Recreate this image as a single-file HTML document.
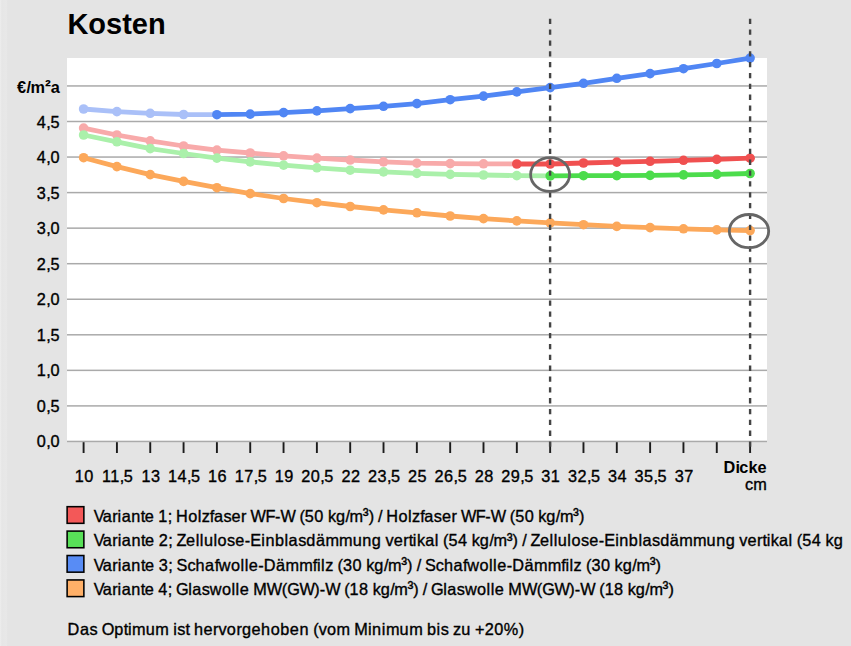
<!DOCTYPE html>
<html><head><meta charset="utf-8"><title>Kosten</title>
<style>
html,body{margin:0;padding:0;}
body{width:851px;height:646px;overflow:hidden;background:#e4e4e4;position:relative;font-family:"Liberation Sans",sans-serif;color:#000;font-size:16.276px;font-kerning:none;font-variant-ligatures:none;}
.strip{position:absolute;left:0;top:0;width:8px;height:646px;background:linear-gradient(to right,#eeeeee 0,#e9e9e9 1px,#e6e6e6 2px,#e7e7e7 4.5px,#e8e8e8 6.3px,#e4e4e4 7.6px);}
.plot{position:absolute;left:67px;top:57.6px;width:700.2px;height:384px;background:#fff;}
svg{position:absolute;left:0;top:0;}
h1{position:absolute;left:67.4px;top:8.3px;margin:0;font-size:29px;line-height:32px;font-weight:bold;}
.t{-webkit-text-stroke:0.35px #000;position:absolute;line-height:18px;height:18px;white-space:nowrap;}
.lb{position:absolute;left:66.2px;width:15.1px;height:14.2px;border:1.7px solid #000;}
</style></head><body>
<div class="strip"></div>
<div class="plot"></div>
<svg width="851" height="646" viewBox="0 0 851 646">
<rect x="67" y="440.70" width="700" height="1.5" fill="#aaaaaa"/><rect x="67" y="405.15" width="700" height="1.5" fill="#aaaaaa"/><rect x="67" y="369.60" width="700" height="1.5" fill="#aaaaaa"/><rect x="67" y="334.05" width="700" height="1.5" fill="#aaaaaa"/><rect x="67" y="298.50" width="700" height="1.5" fill="#aaaaaa"/><rect x="67" y="262.95" width="700" height="1.5" fill="#aaaaaa"/><rect x="67" y="227.40" width="700" height="1.5" fill="#aaaaaa"/><rect x="67" y="191.85" width="700" height="1.5" fill="#aaaaaa"/><rect x="67" y="156.30" width="700" height="1.5" fill="#aaaaaa"/><rect x="67" y="120.75" width="700" height="1.5" fill="#aaaaaa"/><rect x="67" y="85.20" width="700" height="1.5" fill="#aaaaaa"/><rect x="82.65" y="442.2" width="1.9" height="10.8" fill="#1c1c1c"/><rect x="115.97" y="442.2" width="1.9" height="10.8" fill="#1c1c1c"/><rect x="149.30" y="442.2" width="1.9" height="10.8" fill="#1c1c1c"/><rect x="182.62" y="442.2" width="1.9" height="10.8" fill="#1c1c1c"/><rect x="215.95" y="442.2" width="1.9" height="10.8" fill="#1c1c1c"/><rect x="249.28" y="442.2" width="1.9" height="10.8" fill="#1c1c1c"/><rect x="282.60" y="442.2" width="1.9" height="10.8" fill="#1c1c1c"/><rect x="315.93" y="442.2" width="1.9" height="10.8" fill="#1c1c1c"/><rect x="349.25" y="442.2" width="1.9" height="10.8" fill="#1c1c1c"/><rect x="382.57" y="442.2" width="1.9" height="10.8" fill="#1c1c1c"/><rect x="415.90" y="442.2" width="1.9" height="10.8" fill="#1c1c1c"/><rect x="449.23" y="442.2" width="1.9" height="10.8" fill="#1c1c1c"/><rect x="482.55" y="442.2" width="1.9" height="10.8" fill="#1c1c1c"/><rect x="515.88" y="442.2" width="1.9" height="10.8" fill="#1c1c1c"/><rect x="549.20" y="442.2" width="1.9" height="10.8" fill="#1c1c1c"/><rect x="582.52" y="442.2" width="1.9" height="10.8" fill="#1c1c1c"/><rect x="615.85" y="442.2" width="1.9" height="10.8" fill="#1c1c1c"/><rect x="649.18" y="442.2" width="1.9" height="10.8" fill="#1c1c1c"/><rect x="682.50" y="442.2" width="1.9" height="10.8" fill="#1c1c1c"/><rect x="715.83" y="442.2" width="1.9" height="10.8" fill="#1c1c1c"/><rect x="749.15" y="442.2" width="1.9" height="10.8" fill="#1c1c1c"/><polyline points="83.6,109.0 116.9,111.6 150.2,113.3 183.6,114.5 216.9,114.7" fill="none" stroke="#aac0f8" stroke-width="4.8" stroke-linejoin="round"/><circle cx="83.6" cy="109.0" r="4.8" fill="#aac0f8"/><circle cx="116.9" cy="111.6" r="4.8" fill="#aac0f8"/><circle cx="150.2" cy="113.3" r="4.8" fill="#aac0f8"/><circle cx="183.6" cy="114.5" r="4.8" fill="#aac0f8"/><polyline points="216.9,114.7 250.2,114.1 283.6,112.6 316.9,110.9 350.2,108.6 383.5,106.3 416.9,103.6 450.2,99.7 483.5,96.1 516.8,91.9 550.2,87.6 583.5,83.3 616.8,78.3 650.1,73.6 683.5,68.7 716.8,63.5 750.1,58.1" fill="none" stroke="#5086f4" stroke-width="4.8" stroke-linejoin="round"/><circle cx="216.9" cy="114.7" r="4.8" fill="#5086f4"/><circle cx="250.2" cy="114.1" r="4.8" fill="#5086f4"/><circle cx="283.6" cy="112.6" r="4.8" fill="#5086f4"/><circle cx="316.9" cy="110.9" r="4.8" fill="#5086f4"/><circle cx="350.2" cy="108.6" r="4.8" fill="#5086f4"/><circle cx="383.5" cy="106.3" r="4.8" fill="#5086f4"/><circle cx="416.9" cy="103.6" r="4.8" fill="#5086f4"/><circle cx="450.2" cy="99.7" r="4.8" fill="#5086f4"/><circle cx="483.5" cy="96.1" r="4.8" fill="#5086f4"/><circle cx="516.8" cy="91.9" r="4.8" fill="#5086f4"/><circle cx="550.2" cy="87.6" r="4.8" fill="#5086f4"/><circle cx="583.5" cy="83.3" r="4.8" fill="#5086f4"/><circle cx="616.8" cy="78.3" r="4.8" fill="#5086f4"/><circle cx="650.1" cy="73.6" r="4.8" fill="#5086f4"/><circle cx="683.5" cy="68.7" r="4.8" fill="#5086f4"/><circle cx="716.8" cy="63.5" r="4.8" fill="#5086f4"/><circle cx="750.1" cy="58.1" r="4.8" fill="#5086f4"/><polyline points="83.6,128.1 116.9,135.0 150.2,140.8 183.6,146.0 216.9,150.1 250.2,153.0 283.6,155.8 316.9,158.1 350.2,160.0 383.5,161.9 416.9,163.2 450.2,163.6 483.5,163.8 516.8,164.0" fill="none" stroke="#f8aaaa" stroke-width="4.8" stroke-linejoin="round"/><circle cx="83.6" cy="128.1" r="4.8" fill="#f8aaaa"/><circle cx="116.9" cy="135.0" r="4.8" fill="#f8aaaa"/><circle cx="150.2" cy="140.8" r="4.8" fill="#f8aaaa"/><circle cx="183.6" cy="146.0" r="4.8" fill="#f8aaaa"/><circle cx="216.9" cy="150.1" r="4.8" fill="#f8aaaa"/><circle cx="250.2" cy="153.0" r="4.8" fill="#f8aaaa"/><circle cx="283.6" cy="155.8" r="4.8" fill="#f8aaaa"/><circle cx="316.9" cy="158.1" r="4.8" fill="#f8aaaa"/><circle cx="350.2" cy="160.0" r="4.8" fill="#f8aaaa"/><circle cx="383.5" cy="161.9" r="4.8" fill="#f8aaaa"/><circle cx="416.9" cy="163.2" r="4.8" fill="#f8aaaa"/><circle cx="450.2" cy="163.6" r="4.8" fill="#f8aaaa"/><circle cx="483.5" cy="163.8" r="4.8" fill="#f8aaaa"/><polyline points="516.8,164.0 550.2,164.0 583.5,163.0 616.8,162.1 650.1,161.3 683.5,160.3 716.8,159.4 750.1,158.2" fill="none" stroke="#f05050" stroke-width="4.8" stroke-linejoin="round"/><circle cx="516.8" cy="164.0" r="4.8" fill="#f05050"/><circle cx="550.2" cy="164.0" r="4.8" fill="#f05050"/><circle cx="583.5" cy="163.0" r="4.8" fill="#f05050"/><circle cx="616.8" cy="162.1" r="4.8" fill="#f05050"/><circle cx="650.1" cy="161.3" r="4.8" fill="#f05050"/><circle cx="683.5" cy="160.3" r="4.8" fill="#f05050"/><circle cx="716.8" cy="159.4" r="4.8" fill="#f05050"/><circle cx="750.1" cy="158.2" r="4.8" fill="#f05050"/><polyline points="83.6,135.0 116.9,141.8 150.2,148.6 183.6,153.5 216.9,158.1 250.2,161.9 283.6,165.1 316.9,167.8 350.2,170.2 383.5,171.9 416.9,173.4 450.2,174.4 483.5,175.0 516.8,175.6 550.2,175.9" fill="none" stroke="#aaf0aa" stroke-width="4.8" stroke-linejoin="round"/><circle cx="83.6" cy="135.0" r="4.8" fill="#aaf0aa"/><circle cx="116.9" cy="141.8" r="4.8" fill="#aaf0aa"/><circle cx="150.2" cy="148.6" r="4.8" fill="#aaf0aa"/><circle cx="183.6" cy="153.5" r="4.8" fill="#aaf0aa"/><circle cx="216.9" cy="158.1" r="4.8" fill="#aaf0aa"/><circle cx="250.2" cy="161.9" r="4.8" fill="#aaf0aa"/><circle cx="283.6" cy="165.1" r="4.8" fill="#aaf0aa"/><circle cx="316.9" cy="167.8" r="4.8" fill="#aaf0aa"/><circle cx="350.2" cy="170.2" r="4.8" fill="#aaf0aa"/><circle cx="383.5" cy="171.9" r="4.8" fill="#aaf0aa"/><circle cx="416.9" cy="173.4" r="4.8" fill="#aaf0aa"/><circle cx="450.2" cy="174.4" r="4.8" fill="#aaf0aa"/><circle cx="483.5" cy="175.0" r="4.8" fill="#aaf0aa"/><circle cx="516.8" cy="175.6" r="4.8" fill="#aaf0aa"/><polyline points="550.2,175.9 583.5,175.7 616.8,175.6 650.1,175.4 683.5,174.9 716.8,174.4 750.1,173.5" fill="none" stroke="#4cdc4c" stroke-width="4.8" stroke-linejoin="round"/><circle cx="550.2" cy="175.9" r="4.8" fill="#4cdc4c"/><circle cx="583.5" cy="175.7" r="4.8" fill="#4cdc4c"/><circle cx="616.8" cy="175.6" r="4.8" fill="#4cdc4c"/><circle cx="650.1" cy="175.4" r="4.8" fill="#4cdc4c"/><circle cx="683.5" cy="174.9" r="4.8" fill="#4cdc4c"/><circle cx="716.8" cy="174.4" r="4.8" fill="#4cdc4c"/><circle cx="750.1" cy="173.5" r="4.8" fill="#4cdc4c"/><polyline points="83.6,157.7 116.9,166.6 150.2,174.6 183.6,181.4 216.9,187.7 250.2,193.6 283.6,198.5 316.9,202.7 350.2,206.5 383.5,209.9 416.9,212.8 450.2,216.0 483.5,218.6 516.8,220.9 550.2,222.8 583.5,224.7 616.8,226.4 650.1,227.6 683.5,228.8 716.8,229.9 750.1,230.6" fill="none" stroke="#fca85a" stroke-width="4.8" stroke-linejoin="round"/><circle cx="83.6" cy="157.7" r="4.8" fill="#fca85a"/><circle cx="116.9" cy="166.6" r="4.8" fill="#fca85a"/><circle cx="150.2" cy="174.6" r="4.8" fill="#fca85a"/><circle cx="183.6" cy="181.4" r="4.8" fill="#fca85a"/><circle cx="216.9" cy="187.7" r="4.8" fill="#fca85a"/><circle cx="250.2" cy="193.6" r="4.8" fill="#fca85a"/><circle cx="283.6" cy="198.5" r="4.8" fill="#fca85a"/><circle cx="316.9" cy="202.7" r="4.8" fill="#fca85a"/><circle cx="350.2" cy="206.5" r="4.8" fill="#fca85a"/><circle cx="383.5" cy="209.9" r="4.8" fill="#fca85a"/><circle cx="416.9" cy="212.8" r="4.8" fill="#fca85a"/><circle cx="450.2" cy="216.0" r="4.8" fill="#fca85a"/><circle cx="483.5" cy="218.6" r="4.8" fill="#fca85a"/><circle cx="516.8" cy="220.9" r="4.8" fill="#fca85a"/><circle cx="550.2" cy="222.8" r="4.8" fill="#fca85a"/><circle cx="583.5" cy="224.7" r="4.8" fill="#fca85a"/><circle cx="616.8" cy="226.4" r="4.8" fill="#fca85a"/><circle cx="650.1" cy="227.6" r="4.8" fill="#fca85a"/><circle cx="683.5" cy="228.8" r="4.8" fill="#fca85a"/><circle cx="716.8" cy="229.9" r="4.8" fill="#fca85a"/><circle cx="750.1" cy="230.6" r="4.8" fill="#fca85a"/><line x1="550.1" y1="18.7" x2="550.1" y2="452.4" stroke="#444" stroke-width="2.4" stroke-dasharray="5.3 5.54"/><line x1="750.1" y1="18.7" x2="750.1" y2="452.4" stroke="#444" stroke-width="2.4" stroke-dasharray="5.3 5.54"/><ellipse cx="550.1" cy="174.5" rx="19.5" ry="16.9" fill="none" stroke="#666" stroke-width="2.8"/><ellipse cx="749.0" cy="231.1" rx="19.7" ry="16.6" fill="none" stroke="#666" stroke-width="2.8"/><rect x="67.12" y="506.68" width="16.75" height="16.65" fill="#f35858" stroke="#000" stroke-width="1.55"/><rect x="67.12" y="531.10" width="16.75" height="16.65" fill="#58e058" stroke="#000" stroke-width="1.55"/><rect x="67.12" y="555.52" width="16.75" height="16.65" fill="#588cf5" stroke="#000" stroke-width="1.55"/><rect x="67.12" y="579.94" width="16.75" height="16.65" fill="#ffb068" stroke="#000" stroke-width="1.55"/>
</svg>
<h1>Kosten</h1>
<div class="t" style="left:36.84px;top:432.00px"><span style="letter-spacing:0.442px">0</span><span style="letter-spacing:-0.453px">,</span><span style="letter-spacing:0.442px">0</span></div><div class="t" style="left:36.84px;top:396.55px"><span style="letter-spacing:0.442px">0</span><span style="letter-spacing:-0.453px">,</span><span style="letter-spacing:0.442px">5</span></div><div class="t" style="left:36.84px;top:361.10px"><span style="letter-spacing:0.442px">1</span><span style="letter-spacing:-0.453px">,</span><span style="letter-spacing:0.442px">0</span></div><div class="t" style="left:36.84px;top:325.65px"><span style="letter-spacing:0.442px">1</span><span style="letter-spacing:-0.453px">,</span><span style="letter-spacing:0.442px">5</span></div><div class="t" style="left:36.84px;top:290.20px"><span style="letter-spacing:0.442px">2</span><span style="letter-spacing:-0.453px">,</span><span style="letter-spacing:0.442px">0</span></div><div class="t" style="left:36.84px;top:254.75px"><span style="letter-spacing:0.442px">2</span><span style="letter-spacing:-0.453px">,</span><span style="letter-spacing:0.442px">5</span></div><div class="t" style="left:36.84px;top:219.30px"><span style="letter-spacing:0.442px">3</span><span style="letter-spacing:-0.453px">,</span><span style="letter-spacing:0.442px">0</span></div><div class="t" style="left:36.84px;top:183.85px"><span style="letter-spacing:0.442px">3</span><span style="letter-spacing:-0.453px">,</span><span style="letter-spacing:0.442px">5</span></div><div class="t" style="left:36.84px;top:148.40px"><span style="letter-spacing:0.442px">4</span><span style="letter-spacing:-0.453px">,</span><span style="letter-spacing:0.442px">0</span></div><div class="t" style="left:36.84px;top:112.95px"><span style="letter-spacing:0.442px">4</span><span style="letter-spacing:-0.453px">,</span><span style="letter-spacing:0.442px">5</span></div><div class="t" style="left:16.90px;top:77.50px;font-weight:bold;-webkit-text-stroke:0"><span style="letter-spacing:0.442px">€</span><span style="letter-spacing:-0.453px">/</span><span style="letter-spacing:0.448px">m</span><span style="font-size:108%;line-height:0;position:relative;top:-0.9px;margin-left:-0.4px;margin-right:-0.028px">²</span><span style="letter-spacing:0.442px">a</span></div><div class="t" style="left:74.81px;top:466.60px"><span style="letter-spacing:0.442px">10</span></div><div class="t" style="left:102.03px;top:466.60px"><span style="letter-spacing:-0.914px">1</span><span style="letter-spacing:0.442px">1</span><span style="letter-spacing:-0.453px">,</span><span style="letter-spacing:0.442px">5</span></div><div class="t" style="left:141.46px;top:466.60px"><span style="letter-spacing:0.442px">13</span></div><div class="t" style="left:168.00px;top:466.60px"><span style="letter-spacing:0.442px">14</span><span style="letter-spacing:-0.453px">,</span><span style="letter-spacing:0.442px">5</span></div><div class="t" style="left:208.11px;top:466.60px"><span style="letter-spacing:0.442px">16</span></div><div class="t" style="left:234.65px;top:466.60px"><span style="letter-spacing:0.442px">17</span><span style="letter-spacing:-0.453px">,</span><span style="letter-spacing:0.442px">5</span></div><div class="t" style="left:274.76px;top:466.60px"><span style="letter-spacing:0.442px">19</span></div><div class="t" style="left:301.30px;top:466.60px"><span style="letter-spacing:0.442px">20</span><span style="letter-spacing:-0.453px">,</span><span style="letter-spacing:0.442px">5</span></div><div class="t" style="left:341.41px;top:466.60px"><span style="letter-spacing:0.442px">22</span></div><div class="t" style="left:367.95px;top:466.60px"><span style="letter-spacing:0.442px">23</span><span style="letter-spacing:-0.453px">,</span><span style="letter-spacing:0.442px">5</span></div><div class="t" style="left:408.06px;top:466.60px"><span style="letter-spacing:0.442px">25</span></div><div class="t" style="left:434.60px;top:466.60px"><span style="letter-spacing:0.442px">26</span><span style="letter-spacing:-0.453px">,</span><span style="letter-spacing:0.442px">5</span></div><div class="t" style="left:474.71px;top:466.60px"><span style="letter-spacing:0.442px">28</span></div><div class="t" style="left:501.25px;top:466.60px"><span style="letter-spacing:0.442px">29</span><span style="letter-spacing:-0.453px">,</span><span style="letter-spacing:0.442px">5</span></div><div class="t" style="left:541.36px;top:466.60px"><span style="letter-spacing:0.442px">31</span></div><div class="t" style="left:567.90px;top:466.60px"><span style="letter-spacing:0.442px">32</span><span style="letter-spacing:-0.453px">,</span><span style="letter-spacing:0.442px">5</span></div><div class="t" style="left:608.01px;top:466.60px"><span style="letter-spacing:0.442px">34</span></div><div class="t" style="left:634.55px;top:466.60px"><span style="letter-spacing:0.442px">35</span><span style="letter-spacing:-0.453px">,</span><span style="letter-spacing:0.442px">5</span></div><div class="t" style="left:674.66px;top:466.60px"><span style="letter-spacing:0.442px">37</span></div><div class="t" style="left:723.54px;top:457.80px;font-weight:bold;-webkit-text-stroke:0"><span style="letter-spacing:0.153px">D</span><span style="letter-spacing:-0.753px">i</span><span style="letter-spacing:0.142px">cke</span></div><div class="t" style="left:745.10px;top:475.20px"><span style="letter-spacing:0.0px">c</span><span style="letter-spacing:0.005px">m</span></div><div class="t" style="left:93.70px;top:507.00px"><span style="letter-spacing:-1.904px">V</span><span style="letter-spacing:0.442px">a</span><span style="letter-spacing:0.005px">r</span><span style="letter-spacing:0.453px">i</span><span style="letter-spacing:0.442px">an</span><span style="letter-spacing:-0.453px">t</span><span style="letter-spacing:0.442px">e</span><span style="letter-spacing:-0.453px"> </span><span style="letter-spacing:0.442px">1</span><span style="letter-spacing:-0.453px">; </span><span style="letter-spacing:0.453px">H</span><span style="letter-spacing:0.442px">o</span><span style="letter-spacing:0.453px">l</span><span style="letter-spacing:0.0px">z</span><span style="letter-spacing:-0.453px">f</span><span style="letter-spacing:0.442px">a</span><span style="letter-spacing:0.0px">s</span><span style="letter-spacing:0.442px">e</span><span style="letter-spacing:0.005px">r</span><span style="letter-spacing:-0.453px"> </span><span style="letter-spacing:-0.442px">W</span><span style="letter-spacing:-0.448px">F</span><span style="letter-spacing:0.005px">-</span><span style="letter-spacing:-0.442px">W</span><span style="letter-spacing:-0.453px"> </span><span style="letter-spacing:0.005px">(</span><span style="letter-spacing:0.442px">50</span><span style="letter-spacing:-0.453px"> </span><span style="letter-spacing:0.0px">k</span><span style="letter-spacing:0.442px">g</span><span style="letter-spacing:-0.453px">/</span><span style="letter-spacing:0.005px">m</span><span style="font-size:108%;line-height:0;position:relative;top:-0.9px;margin-left:-0.4px;margin-right:-0.028px">³</span><span style="letter-spacing:0.005px">)</span><span style="letter-spacing:-0.453px"> / </span><span style="letter-spacing:0.453px">H</span><span style="letter-spacing:0.442px">o</span><span style="letter-spacing:0.453px">l</span><span style="letter-spacing:0.0px">z</span><span style="letter-spacing:-0.453px">f</span><span style="letter-spacing:0.442px">a</span><span style="letter-spacing:0.0px">s</span><span style="letter-spacing:0.442px">e</span><span style="letter-spacing:0.005px">r</span><span style="letter-spacing:-0.453px"> </span><span style="letter-spacing:-0.442px">W</span><span style="letter-spacing:-0.448px">F</span><span style="letter-spacing:0.005px">-</span><span style="letter-spacing:-0.442px">W</span><span style="letter-spacing:-0.453px"> </span><span style="letter-spacing:0.005px">(</span><span style="letter-spacing:0.442px">50</span><span style="letter-spacing:-0.453px"> </span><span style="letter-spacing:0.0px">k</span><span style="letter-spacing:0.442px">g</span><span style="letter-spacing:-0.453px">/</span><span style="letter-spacing:0.005px">m</span><span style="font-size:108%;line-height:0;position:relative;top:-0.9px;margin-left:-0.4px;margin-right:-0.028px">³</span><span style="letter-spacing:0.005px">)</span></div><div class="t" style="left:93.70px;top:531.43px"><span style="letter-spacing:-1.849px">V</span><span style="letter-spacing:0.497px">a</span><span style="letter-spacing:0.06px">r</span><span style="letter-spacing:0.508px">i</span><span style="letter-spacing:0.497px">an</span><span style="letter-spacing:-0.398px">t</span><span style="letter-spacing:0.497px">e</span><span style="letter-spacing:-0.398px"> </span><span style="letter-spacing:0.497px">2</span><span style="letter-spacing:-0.398px">; </span><span style="letter-spacing:-0.393px">Z</span><span style="letter-spacing:0.497px">e</span><span style="letter-spacing:0.508px">ll</span><span style="letter-spacing:0.497px">u</span><span style="letter-spacing:0.508px">l</span><span style="letter-spacing:0.497px">o</span><span style="letter-spacing:0.055px">s</span><span style="letter-spacing:0.497px">e</span><span style="letter-spacing:0.06px">-</span><span style="letter-spacing:0.05px">E</span><span style="letter-spacing:0.508px">i</span><span style="letter-spacing:0.497px">nb</span><span style="letter-spacing:0.508px">l</span><span style="letter-spacing:0.497px">a</span><span style="letter-spacing:0.055px">s</span><span style="letter-spacing:0.497px">dä</span><span style="letter-spacing:0.06px">mm</span><span style="letter-spacing:0.497px">ung</span><span style="letter-spacing:-0.398px"> </span><span style="letter-spacing:0.055px">v</span><span style="letter-spacing:0.497px">e</span><span style="letter-spacing:0.06px">r</span><span style="letter-spacing:-0.398px">t</span><span style="letter-spacing:0.508px">i</span><span style="letter-spacing:0.055px">k</span><span style="letter-spacing:0.497px">a</span><span style="letter-spacing:0.508px">l</span><span style="letter-spacing:-0.398px"> </span><span style="letter-spacing:0.06px">(</span><span style="letter-spacing:0.497px">54</span><span style="letter-spacing:-0.398px"> </span><span style="letter-spacing:0.055px">k</span><span style="letter-spacing:0.497px">g</span><span style="letter-spacing:-0.398px">/</span><span style="letter-spacing:0.06px">m</span><span style="font-size:108%;line-height:0;position:relative;top:-0.9px;margin-left:-0.4px;margin-right:0.027px">³</span><span style="letter-spacing:0.06px">)</span><span style="letter-spacing:-0.398px"> / </span><span style="letter-spacing:-0.393px">Z</span><span style="letter-spacing:0.497px">e</span><span style="letter-spacing:0.508px">ll</span><span style="letter-spacing:0.497px">u</span><span style="letter-spacing:0.508px">l</span><span style="letter-spacing:0.497px">o</span><span style="letter-spacing:0.055px">s</span><span style="letter-spacing:0.497px">e</span><span style="letter-spacing:0.06px">-</span><span style="letter-spacing:0.05px">E</span><span style="letter-spacing:0.508px">i</span><span style="letter-spacing:0.497px">nb</span><span style="letter-spacing:0.508px">l</span><span style="letter-spacing:0.497px">a</span><span style="letter-spacing:0.055px">s</span><span style="letter-spacing:0.497px">dä</span><span style="letter-spacing:0.06px">mm</span><span style="letter-spacing:0.497px">ung</span><span style="letter-spacing:-0.398px"> </span><span style="letter-spacing:0.055px">v</span><span style="letter-spacing:0.497px">e</span><span style="letter-spacing:0.06px">r</span><span style="letter-spacing:-0.398px">t</span><span style="letter-spacing:0.508px">i</span><span style="letter-spacing:0.055px">k</span><span style="letter-spacing:0.497px">a</span><span style="letter-spacing:0.508px">l</span><span style="letter-spacing:-0.398px"> </span><span style="letter-spacing:0.06px">(</span><span style="letter-spacing:0.497px">54</span><span style="letter-spacing:-0.398px"> </span><span style="letter-spacing:0.055px">k</span><span style="letter-spacing:0.497px">g</span></div><div class="t" style="left:93.70px;top:555.86px"><span style="letter-spacing:-1.858px">V</span><span style="letter-spacing:0.488px">a</span><span style="letter-spacing:0.051px">r</span><span style="letter-spacing:0.499px">i</span><span style="letter-spacing:0.488px">an</span><span style="letter-spacing:-0.407px">t</span><span style="letter-spacing:0.488px">e</span><span style="letter-spacing:-0.407px"> </span><span style="letter-spacing:0.488px">3</span><span style="letter-spacing:-0.407px">; </span><span style="letter-spacing:0.041px">S</span><span style="letter-spacing:0.046px">c</span><span style="letter-spacing:0.488px">ha</span><span style="letter-spacing:-0.407px">f</span><span style="letter-spacing:0.499px">w</span><span style="letter-spacing:0.488px">o</span><span style="letter-spacing:0.499px">ll</span><span style="letter-spacing:0.488px">e</span><span style="letter-spacing:0.051px">-</span><span style="letter-spacing:0.499px">D</span><span style="letter-spacing:0.488px">ä</span><span style="letter-spacing:0.051px">mm</span><span style="letter-spacing:-0.407px">f</span><span style="letter-spacing:0.499px">il</span><span style="letter-spacing:0.046px">z</span><span style="letter-spacing:-0.407px"> </span><span style="letter-spacing:0.051px">(</span><span style="letter-spacing:0.488px">30</span><span style="letter-spacing:-0.407px"> </span><span style="letter-spacing:0.046px">k</span><span style="letter-spacing:0.488px">g</span><span style="letter-spacing:-0.407px">/</span><span style="letter-spacing:0.051px">m</span><span style="font-size:108%;line-height:0;position:relative;top:-0.9px;margin-left:-0.4px;margin-right:0.018px">³</span><span style="letter-spacing:0.051px">)</span><span style="letter-spacing:-0.407px"> / </span><span style="letter-spacing:0.041px">S</span><span style="letter-spacing:0.046px">c</span><span style="letter-spacing:0.488px">ha</span><span style="letter-spacing:-0.407px">f</span><span style="letter-spacing:0.499px">w</span><span style="letter-spacing:0.488px">o</span><span style="letter-spacing:0.499px">ll</span><span style="letter-spacing:0.488px">e</span><span style="letter-spacing:0.051px">-</span><span style="letter-spacing:0.499px">D</span><span style="letter-spacing:0.488px">ä</span><span style="letter-spacing:0.051px">mm</span><span style="letter-spacing:-0.407px">f</span><span style="letter-spacing:0.499px">il</span><span style="letter-spacing:0.046px">z</span><span style="letter-spacing:-0.407px"> </span><span style="letter-spacing:0.051px">(</span><span style="letter-spacing:0.488px">30</span><span style="letter-spacing:-0.407px"> </span><span style="letter-spacing:0.046px">k</span><span style="letter-spacing:0.488px">g</span><span style="letter-spacing:-0.407px">/</span><span style="letter-spacing:0.051px">m</span><span style="font-size:108%;line-height:0;position:relative;top:-0.9px;margin-left:-0.4px;margin-right:0.018px">³</span><span style="letter-spacing:0.051px">)</span></div><div class="t" style="left:93.70px;top:580.29px"><span style="letter-spacing:-1.904px">V</span><span style="letter-spacing:0.442px">a</span><span style="letter-spacing:0.005px">r</span><span style="letter-spacing:0.453px">i</span><span style="letter-spacing:0.442px">an</span><span style="letter-spacing:-0.453px">t</span><span style="letter-spacing:0.442px">e</span><span style="letter-spacing:-0.453px"> </span><span style="letter-spacing:0.442px">4</span><span style="letter-spacing:-0.453px">; G</span><span style="letter-spacing:0.453px">l</span><span style="letter-spacing:0.442px">a</span><span style="letter-spacing:0.0px">s</span><span style="letter-spacing:0.453px">w</span><span style="letter-spacing:0.442px">o</span><span style="letter-spacing:0.453px">ll</span><span style="letter-spacing:0.442px">e</span><span style="letter-spacing:-0.453px"> </span><span style="letter-spacing:0.005px">M</span><span style="letter-spacing:-0.442px">W</span><span style="letter-spacing:0.005px">(</span><span style="letter-spacing:-0.453px">G</span><span style="letter-spacing:-0.442px">W</span><span style="letter-spacing:0.005px">)-</span><span style="letter-spacing:-0.442px">W</span><span style="letter-spacing:-0.453px"> </span><span style="letter-spacing:0.005px">(</span><span style="letter-spacing:0.442px">18</span><span style="letter-spacing:-0.453px"> </span><span style="letter-spacing:0.0px">k</span><span style="letter-spacing:0.442px">g</span><span style="letter-spacing:-0.453px">/</span><span style="letter-spacing:0.005px">m</span><span style="font-size:108%;line-height:0;position:relative;top:-0.9px;margin-left:-0.4px;margin-right:-0.028px">³</span><span style="letter-spacing:0.005px">)</span><span style="letter-spacing:-0.453px"> / G</span><span style="letter-spacing:0.453px">l</span><span style="letter-spacing:0.442px">a</span><span style="letter-spacing:0.0px">s</span><span style="letter-spacing:0.453px">w</span><span style="letter-spacing:0.442px">o</span><span style="letter-spacing:0.453px">ll</span><span style="letter-spacing:0.442px">e</span><span style="letter-spacing:-0.453px"> </span><span style="letter-spacing:0.005px">M</span><span style="letter-spacing:-0.442px">W</span><span style="letter-spacing:0.005px">(</span><span style="letter-spacing:-0.453px">G</span><span style="letter-spacing:-0.442px">W</span><span style="letter-spacing:0.005px">)-</span><span style="letter-spacing:-0.442px">W</span><span style="letter-spacing:-0.453px"> </span><span style="letter-spacing:0.005px">(</span><span style="letter-spacing:0.442px">18</span><span style="letter-spacing:-0.453px"> </span><span style="letter-spacing:0.0px">k</span><span style="letter-spacing:0.442px">g</span><span style="letter-spacing:-0.453px">/</span><span style="letter-spacing:0.005px">m</span><span style="font-size:108%;line-height:0;position:relative;top:-0.9px;margin-left:-0.4px;margin-right:-0.028px">³</span><span style="letter-spacing:0.005px">)</span></div><div class="t" style="left:67.60px;top:619.70px"><span style="letter-spacing:0.543px">D</span><span style="letter-spacing:0.532px">a</span><span style="letter-spacing:0.09px">s</span><span style="letter-spacing:-0.363px"> O</span><span style="letter-spacing:0.532px">p</span><span style="letter-spacing:-0.363px">t</span><span style="letter-spacing:0.543px">i</span><span style="letter-spacing:0.095px">m</span><span style="letter-spacing:0.532px">u</span><span style="letter-spacing:0.095px">m</span><span style="letter-spacing:-0.363px"> </span><span style="letter-spacing:0.543px">i</span><span style="letter-spacing:0.09px">s</span><span style="letter-spacing:-0.363px">t </span><span style="letter-spacing:0.532px">he</span><span style="letter-spacing:0.095px">r</span><span style="letter-spacing:0.09px">v</span><span style="letter-spacing:0.532px">o</span><span style="letter-spacing:0.095px">r</span><span style="letter-spacing:0.532px">gehoben</span><span style="letter-spacing:-0.363px"> </span><span style="letter-spacing:0.095px">(</span><span style="letter-spacing:0.09px">v</span><span style="letter-spacing:0.532px">o</span><span style="letter-spacing:0.095px">m</span><span style="letter-spacing:-0.363px"> </span><span style="letter-spacing:0.095px">M</span><span style="letter-spacing:0.543px">i</span><span style="letter-spacing:0.532px">n</span><span style="letter-spacing:0.543px">i</span><span style="letter-spacing:0.095px">m</span><span style="letter-spacing:0.532px">u</span><span style="letter-spacing:0.095px">m</span><span style="letter-spacing:-0.363px"> </span><span style="letter-spacing:0.532px">b</span><span style="letter-spacing:0.543px">i</span><span style="letter-spacing:0.09px">s</span><span style="letter-spacing:-0.363px"> </span><span style="letter-spacing:0.09px">z</span><span style="letter-spacing:0.532px">u</span><span style="letter-spacing:-0.363px"> </span><span style="letter-spacing:0.079px">+</span><span style="letter-spacing:0.532px">20</span><span style="letter-spacing:0.538px">%</span><span style="letter-spacing:0.095px">)</span></div>
</body></html>
